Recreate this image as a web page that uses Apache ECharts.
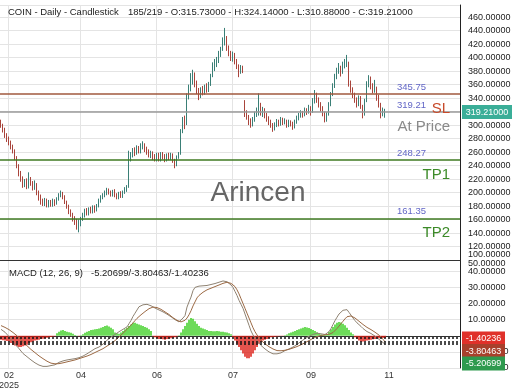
<!DOCTYPE html>
<html><head><meta charset="utf-8">
<script src="https://cdn.jsdelivr.net/npm/echarts@6/dist/echarts.min.js"></script>
<style>html,body{margin:0;padding:0;background:#fff}#c{width:520px;height:390px}</style>
</head><body><div id="c"></div>
<script>
const symbolName = 'COIN', periodName = 'Daily', chartKind = 'Candlestick';
const cursorText = '185/219';
const TOTAL_SLOTS = 230;
const monthTicks = [4, 40, 78, 116, 155, 194];
const monthLabels = ['02\n2025', '04', '06', '07', '09', '11'];
const priceAxisMin = 100, priceAxisMax = 478;
const macdAxisMin = -20, macdAxisMax = 47, macdTopLabel = 50;

// [open, close, low, high]
const ohlc = [
[305,300,296,308],[300,292,289,302],[293,284,281,296],[285,279,275,288],[280,274,270,283],
[273,268,264,277],[268,262,258,271],[261,252,248,264],[251,240,236,254],[238,228,224,242],
[229,220,216,232],[221,212,207,224],[211,216,208,220],[217,210,205,221],[209,218,206,230],
[219,214,210,223],[214,208,203,217],[207,213,204,218],[211,200,196,214],[199,192,188,203],
[193,186,182,197],[187,184,180,191],[183,188,180,192],[189,182,178,191],[181,185,178,189],
[186,183,179,189],[182,187,179,191],[188,184,180,190],[185,190,182,193],[191,196,188,199],
[197,199,193,203],[198,194,190,201],[193,186,183,196],[185,180,176,188],[179,172,168,182],
[171,168,164,175],[166,162,157,170],[160,158,152,165],[157,150,145,161],[148,155,141,160],
[154,160,150,164],[161,166,158,170],[167,172,163,176],[173,170,166,177],[169,175,166,178],
[176,173,169,179],[172,178,169,181],[179,174,170,181],[175,180,172,183],[181,188,178,191],
[189,192,185,196],[193,196,190,199],[197,199,193,203],[200,203,196,207],[204,200,197,206],
[201,198,194,203],[197,201,194,204],[202,197,193,205],[196,194,190,199],[193,198,190,201],
[199,196,192,202],[195,200,192,203],[201,205,198,208],[206,207,201,211],[210,250,207,262],
[251,255,246,260],[256,262,252,266],[263,258,254,267],[259,265,256,270],[266,262,258,269],
[261,268,258,273],[269,270,264,276],[270,264,260,273],[265,260,256,268],[261,255,252,264],
[254,258,251,262],[259,252,248,261],[253,250,246,257],[249,255,246,259],[256,250,246,259],
[249,256,246,260],[257,253,249,260],[254,249,245,257],[248,255,246,258],[256,252,248,259],
[251,256,248,259],[255,248,244,258],[247,240,236,250],[241,252,239,255],[253,256,250,260],
[258,290,256,294],[291,305,288,312],[306,300,294,314],[302,340,300,347],[341,355,338,360],
[356,368,350,377],[369,375,360,382],[374,362,356,378],[361,350,346,366],[351,342,337,355],
[343,352,340,356],[353,348,344,358],[347,356,345,360],[357,352,348,362],[351,360,349,364],
[361,372,358,376],[373,385,371,393],[386,390,380,398],[391,395,386,401],[396,405,392,410],
[406,412,401,416],[413,422,410,430],[423,430,418,444],[428,415,410,432],[414,408,402,418],
[407,400,395,410],[399,405,394,409],[404,395,390,407],[394,388,383,398],[387,380,371,390],
[381,385,376,389],[384,382,377,388],[330,318,312,337],[319,312,308,322],[311,305,300,315],
[304,300,296,310],[301,308,298,312],[309,315,305,320],[316,322,312,326],[323,330,314,347],
[329,318,314,333],[317,322,312,327],[321,315,310,325],[314,310,305,318],[309,305,300,313],
[304,300,296,308],[299,295,290,303],[296,300,292,304],[301,305,297,309],[304,302,298,308],
[303,308,299,312],[307,304,300,311],[305,306,301,310],[305,300,296,308],[301,305,297,308],
[304,302,298,307],[301,298,293,305],[299,304,295,308],[305,310,302,314],[311,314,307,318],
[315,318,311,322],[317,316,311,321],[317,322,313,326],[321,320,315,325],[321,325,317,330],
[324,318,314,328],[320,335,318,340],[336,345,332,352],[344,338,333,348],[337,330,326,341],
[331,325,320,334],[324,318,313,328],[317,308,304,320],[309,315,305,319],[316,330,314,334],
[331,345,328,349],[346,358,343,362],[359,372,355,376],[373,380,368,385],[381,385,376,392],
[384,378,372,388],[379,388,376,394],[389,392,384,398],[393,395,386,404],[392,362,357,394],
[361,352,348,366],[351,345,340,356],[344,338,333,348],[337,330,326,341],[331,340,328,344],
[339,328,324,343],[327,315,310,330],[316,335,314,339],[337,360,334,365],[361,370,356,374],
[369,358,353,372],[357,352,347,362],[353,355,348,367],[354,340,336,357],[339,330,326,345],
[329,318,310,333],[317,322,313,326],[315.73,319.21,310.88,324.14]
];

const macdLine = [
4,3.2,2.2,1.2,-0.5,-2,-3.5,-5,-6.5,-8,
-9.5,-11,-12,-13,-14,-15,-16,-16.8,-17.5,-18.2,
-18.8,-19,-19.2,-19,-18.8,-18.5,-18.3,-18,-17.2,-16.5,
-16,-15.6,-15.3,-15,-14.8,-14.6,-14.4,-14.2,-14,-13.6,
-13.3,-12.6,-12,-11.2,-10.4,-9.6,-8.8,-8,-7.4,-7,
-6.4,-5.2,-4,-2.8,-1.8,-0.8,0,0.8,1.6,2.5,
3.2,4,4.8,5.5,7.5,9.5,12,14,16,18,
18.8,19.2,19.5,19.5,19.2,18.6,18,17.2,16.6,16,
15.3,14.8,14.2,13.4,12.6,11.8,10.8,10,9.2,8.6,
9.5,11,12.5,17.8,21,24,28,30,30.4,30.8,
31,31,31,31.2,31.5,31.8,32,32.4,32.8,33.2,
33.6,34,34.2,33.5,32.6,31.5,30,27.5,25,22,
19.5,17,13.5,10,6.5,3,0.5,-1.5,-3,-4.5,
-6,-7.2,-8.2,-9.2,-10,-10.8,-11.2,-11.3,-11.2,-11,
-10.6,-10,-9.2,-8.8,-8.2,-7.6,-7,-6.2,-5.4,-4.5,
-3.5,-2.6,-1.8,-1,-0.3,0.2,0.8,1.4,1.6,1.4,
1.2,1,0.8,1,2.5,4.5,7,9.4,11.5,13.5,
14.5,15.8,16.6,16.2,14.5,12.8,11,9.4,8,7,
5.8,4.5,3.5,2.6,2,1.4,0.6,-0.2,-1.2,-2.2,
-3.2,-4.2,-5.20699
];

const signalLine = [
6.3,5.8,5.2,4.5,3.8,3,2,1,0,-1.2,
-2.5,-3.8,-5,-6.2,-7.4,-8.5,-9.5,-10.5,-11.5,-12.5,
-13.4,-14.2,-15,-15.8,-16.5,-17,-17.3,-17.4,-17.4,-17.3,
-17.1,-16.8,-16.5,-16.2,-15.9,-15.6,-15.3,-15,-14.6,-14.2,
-13.8,-13.4,-13,-12.6,-12.2,-11.6,-11,-10.4,-9.8,-9.2,
-8.6,-8,-7.2,-6.4,-5.6,-4.8,-4,-3,-2,-0.8,
0.4,1.6,2.8,4,5.2,6.6,8,9.4,10.8,12,
13,14,15,16,16.8,17.4,17.8,17.8,17.5,17,
16.4,15.6,14.8,14,13.2,12.2,11.2,10.4,9.6,9,
8.6,8.8,9.6,11,13,15.5,18.5,21,23.5,25,
26,27,27.8,28.5,29,29.5,30,30.5,31,31.5,
32,32.5,33,33.2,33,32.5,32,30.5,28.5,26,
23,20,17,14,11,8,5,2.5,0.5,-1.2,
-2.8,-4,-5,-6,-6.8,-7.5,-8.2,-8.8,-9.2,-9.3,
-9.3,-9.2,-9,-8.7,-8.4,-8,-7.6,-7.2,-6.7,-6.2,
-5.6,-5,-4.3,-3.6,-3,-2.3,-1.6,-1,-0.5,-0.1,
0.2,0.4,0.6,0.7,0.9,1.3,2,3,4.5,6,
7.5,9,10.5,11.8,12.5,12.3,11.8,11,10,9,
8,7,6,5.2,4.5,3.8,3,2.2,1.4,0.4,
-0.8,-2.2,-3.80463
];

const histogram = [
-2.5,-2.8,-3,-3.2,-3.5,-4.5,-5.5,-6,-6.5,-7,
-7,-6.5,-6,-5.5,-4.5,-4,-3.5,-3,-2.8,-2.5,
-2,-1.8,-1.5,-1.2,-1,-0.8,-0.5,-0.3,1.5,2.5,
3.2,3.5,3,2.5,2.2,1.8,1.2,0.5,0.2,-0.3,
0.3,1,1.8,2.5,3,3.5,3.8,4,4.2,4.5,
5,5.5,6,6.3,5.8,5,4,2,1.5,1.2,
2,3,4,5,6,7,8,8,7.5,7,
6.5,6,5.5,5,4,3,-0.5,-1,-1.5,-2,
-2,-2.2,-2.5,-2,-1.8,-1.5,-1.2,-1,-0.5,0.3,
2,4,6,8,10,11,10.5,9,7.5,6,
5,4.5,4,3.5,3,3,2.8,2.8,3,2.8,
2.5,2.5,2.2,2,1.5,1,-1,-3,-5,-7,
-9,-11,-13,-14,-14,-13,-11,-9,-7,-5,
-4,-3,-2.5,-2,-1.5,-1,-0.8,-0.6,-0.4,-0.3,
-0.2,-0.1,0.3,0.8,1.5,2,2.5,3,3.5,4,
4.5,5,5.5,5.2,4.8,4.2,3.6,3,2.2,1.5,
0.8,0.5,0.4,1,2.5,4,5.5,7,8,8.6,
8.2,7.5,6.5,5,3.5,2,1,-1,-2,-3,
-3.7,-3.5,-3.2,-3,-2.8,-2.5,-2.2,-2,-1.8,-1.6,
-1.5,-1.4,-1.40236
];

const levelValues = [345.75, 319.21, 248.27, 161.35];
const levelNames = ['SL', 'At Price', 'TP1', 'TP2'];
const macdParams = [12, 26, 9];
const watermarkText = 'Arincen';

// ---------- build ----------
const FONT = '"Liberation Sans", Arial, sans-serif';
const categories = Array.from({length: TOTAL_SLOTS}, (_, i) => {
  const k = monthTicks.indexOf(i); return k >= 0 ? monthLabels[k] : '';
});
const last = ohlc[ohlc.length - 1];
const lastMacd = macdLine[macdLine.length - 1];
const lastSignal = signalLine[signalLine.length - 1];
const lastHist = histogram[histogram.length - 1];
const headerText = `${symbolName} - ${periodName} - ${chartKind}`;
const ohlcText = `${cursorText} - O:${last[0].toFixed(5)} - H:${last[3].toFixed(5)} - L:${last[2].toFixed(5)} - C:${last[1].toFixed(5)}`;
const macdTitle = `MACD (${macdParams.join(', ')})`;
const macdVals = `${lastMacd.toFixed(5)}/${lastSignal.toFixed(5)}/${lastHist.toFixed(5)}`;

const lineColors = ['#a0583e', '#9a9a9a', '#3f7a22', '#3f7a22'];
const nameColors = ['#c84a2a', '#8a8a8a', '#3c8a28', '#3c8a28'];
const gridColor = '#e4e4e4';
const showCat = (idx, val) => val !== '';

const chart = echarts.init(document.getElementById('c'), null, {renderer: 'canvas'});

const option = {
  animation: false,
  backgroundColor: '#fff',
  textStyle: {fontFamily: FONT},
  grid: [
    {left: 0, right: 60, top: 5, height: 255, containLabel: false, outerBoundsMode: 'none'},
    {left: 0, right: 60, top: 260, height: 108, containLabel: false, outerBoundsMode: 'none'}
  ],
  xAxis: [
    {type: 'category', gridIndex: 0, data: categories, boundaryGap: true,
     axisLine: {show: true, lineStyle: {color: '#333', width: 1}}, axisTick: {show: false}, axisLabel: {show: false},
     splitLine: {show: true, interval: showCat, lineStyle: {color: gridColor, width: 1}}},
    {type: 'category', gridIndex: 1, data: categories, boundaryGap: true,
     axisLine: {show: true, lineStyle: {color: '#333', width: 1}}, axisTick: {show: false},
     axisLabel: {show: true, interval: showCat, fontSize: 9, color: '#333', margin: 3, lineHeight: 10, fontFamily: FONT},
     splitLine: {show: true, interval: showCat, lineStyle: {color: gridColor, width: 1}}}
  ],
  yAxis: [
    {type: 'value', gridIndex: 0, position: 'right', min: priceAxisMin, max: priceAxisMax, interval: 20,
     axisLine: {show: true, lineStyle: {color: '#222', width: 1}}, axisTick: {show: false},
     axisLabel: {show: true, fontSize: 9, color: '#222', margin: 8, fontFamily: FONT, showMaxLabel: false, showMinLabel: false,
       formatter: v => v.toFixed(5)},
     splitLine: {show: true, lineStyle: {color: gridColor, width: 1}}},
    {type: 'value', gridIndex: 1, position: 'right', min: macdAxisMin, max: macdAxisMax, interval: 10,
     axisLine: {show: true, lineStyle: {color: '#222', width: 1}}, axisTick: {show: false},
     axisLabel: {show: true, fontSize: 9, color: '#222', margin: 8, fontFamily: FONT, showMaxLabel: false, showMinLabel: true,
       formatter: v => v.toFixed(5)},
     splitLine: {show: true, lineStyle: {color: gridColor, width: 1}}}
  ],
  series: [
    {type: 'candlestick', xAxisIndex: 0, yAxisIndex: 0, data: ohlc, barWidth: 1.2,
     itemStyle: {color: '#3a7f76', color0: '#a9443b', borderColor: '#3a7f76', borderColor0: '#a9443b', borderWidth: 1},
     markLine: {silent: true, symbol: ['none', 'none'], animation: false,
       data: [
         ...levelValues.map((v, k) => ({yAxis: v,
           lineStyle: {color: lineColors[k], width: 1.6, type: 'solid'},
           label: {show: true, position: 'insideEndTop', formatter: v.toFixed(2), color: '#6266c6', fontSize: 9.5,
                   distance: 2, padding: [0, 32, 0, 0], fontFamily: FONT}})),
         ...levelValues.map((v, k) => ({yAxis: v,
           lineStyle: {color: 'rgba(0,0,0,0)', width: 1},
           label: {show: true, position: 'insideEndBottom', formatter: levelNames[k], color: nameColors[k], fontSize: 15,
                   distance: 7, padding: [0, 3, 0, 0], fontFamily: FONT}}))
       ]}},
    {type: 'bar', xAxisIndex: 1, yAxisIndex: 1, data: histogram, barWidth: 1.5,
     itemStyle: {color: p => p.value >= 0 ? '#3ccf22' : '#dc1a12'},
     markLine: {silent: true, symbol: ['none', 'none'], animation: false, label: {show: false},
       lineStyle: {color: '#111', type: [2, 2], width: 1.5},
       data: [{yAxis: lastHist}, {yAxis: lastSignal}, {yAxis: lastMacd}]}},
    {type: 'line', xAxisIndex: 1, yAxisIndex: 1, data: macdLine, symbol: 'none', smooth: false,
     lineStyle: {color: '#8e8272', width: 1}},
    {type: 'line', xAxisIndex: 1, yAxisIndex: 1, data: signalLine, symbol: 'none', smooth: false,
     lineStyle: {color: '#9c6a45', width: 1}}
  ]
};
chart.setOption(option);

const pricePix = chart.convertToPixel({yAxisIndex: 0}, last[1]);
const priceMinPix = chart.convertToPixel({yAxisIndex: 0}, priceAxisMin);
const macdMaxPix = chart.convertToPixel({yAxisIndex: 1}, macdAxisMax);
const histPix = chart.convertToPixel({yAxisIndex: 1}, lastHist);
const tagVals = [lastHist, lastSignal, lastMacd];
const tagBg = ['#e0312a', '#a8402c', '#2e9a4e'];
const graphics = [
  {type: 'text', x: 8, y: 12, style: {text: headerText, fontSize: 9.5, fill: '#222', fontFamily: FONT, verticalAlign: 'middle'}},
  {type: 'text', x: 128, y: 12, style: {text: ohlcText, fontSize: 9.5, fill: '#222', fontFamily: FONT, verticalAlign: 'middle'}},
  {type: 'text', x: 9, y: 273, style: {text: macdTitle, fontSize: 9.5, fill: '#222', fontFamily: FONT, verticalAlign: 'middle'}},
  {type: 'text', x: 91, y: 273, style: {text: macdVals, fontSize: 9.5, fill: '#222', fontFamily: FONT, verticalAlign: 'middle'}},
  {type: 'text', x: 258, y: 193, z: 1, style: {text: watermarkText, fontSize: 28, fill: '#666', fontFamily: FONT, align: 'center', verticalAlign: 'middle'}},
  // clamped edge labels of the two value axes
  {type: 'text', x: 468, y: priceMinPix - 1, z: 5, style: {text: priceAxisMin.toFixed(5), fontSize: 9, fill: '#222', fontFamily: FONT, verticalAlign: 'bottom'}},
  {type: 'text', x: 468, y: macdMaxPix + 4, z: 5, style: {text: macdTopLabel.toFixed(5), fontSize: 9, fill: '#222', fontFamily: FONT, verticalAlign: 'middle'}},
  {type: 'rect', x: 462, y: pricePix - 7, z: 10, shape: {width: 50, height: 14}, style: {fill: '#3aae98'}},
  {type: 'text', x: 487, y: pricePix, z: 11, style: {text: last[1].toFixed(5), fontSize: 9, fill: '#fff', fontFamily: FONT, align: 'center', verticalAlign: 'middle'}}
];
tagVals.forEach((v, k) => {
  const cy = histPix + 0.5 + k * 12.5;
  graphics.push({type: 'rect', x: 462, y: cy - 7, z: 10, shape: {width: 43, height: 14}, style: {fill: tagBg[k]}});
  graphics.push({type: 'text', x: 483.5, y: cy, z: 11, style: {text: v.toFixed(5), fontSize: 9, fill: '#fff', fontFamily: FONT, align: 'center', verticalAlign: 'middle'}});
});
chart.setOption({graphic: graphics});
</script></body></html>
